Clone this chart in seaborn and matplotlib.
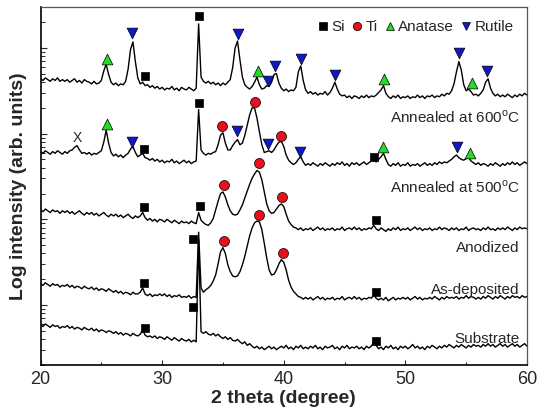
import numpy as np
import pandas as pd
import matplotlib
matplotlib.use('Agg')
import matplotlib.pyplot as plt
from matplotlib.lines import Line2D
from matplotlib.ticker import LogLocator, NullFormatter, MultipleLocator
import seaborn as sns

# 2 theta scan, 0.2 degree step
two_theta = np.linspace(20, 60, 201)

# log10 intensity (arb. units), curves already offset as in the figure
log_600 = [2.64, 2.62, 2.65, 2.63, 2.61, 2.64, 2.62, 2.65, 2.61, 2.63,
           2.61, 2.63, 2.60, 2.62, 2.64, 2.60, 2.62, 2.59, 2.63, 2.61,
           2.60, 2.58, 2.61, 2.58, 2.59, 2.62, 2.73, 2.81, 2.69, 2.60,
           2.57, 2.59, 2.56, 2.58, 2.57, 2.61, 2.75, 2.98, 3.07, 2.84,
           2.65, 2.58, 2.60, 2.56, 2.57, 2.54, 2.56, 2.53, 2.55, 2.52,
           2.54, 2.51, 2.53, 2.52, 2.55, 2.51, 2.53, 2.50, 2.54, 2.52,
           2.51, 2.54, 2.52, 2.50, 2.53, 3.28, 2.66, 2.61, 2.59, 2.61,
           2.58, 2.60, 2.57, 2.59, 2.56, 2.59, 2.57, 2.60, 2.63, 2.77,
           3.00, 3.08, 2.86, 2.66, 2.57, 2.54, 2.52, 2.55, 2.60, 2.66,
           2.57, 2.52, 2.53, 2.56, 2.55, 2.60, 2.69, 2.70, 2.59, 2.53,
           2.50, 2.52, 2.49, 2.51, 2.50, 2.54, 2.72, 2.79, 2.62, 2.51,
           2.47, 2.49, 2.46, 2.48, 2.45, 2.47, 2.46, 2.49, 2.45, 2.48,
           2.53, 2.60, 2.52, 2.46, 2.44, 2.45, 2.42, 2.44, 2.41, 2.44,
           2.43, 2.41, 2.44, 2.42, 2.45, 2.42, 2.44, 2.43, 2.45, 2.48,
           2.51, 2.56, 2.47, 2.43, 2.41, 2.44, 2.42, 2.45, 2.41, 2.43,
           2.42, 2.44, 2.41, 2.43, 2.42, 2.45, 2.42, 2.44, 2.41, 2.44,
           2.43, 2.45, 2.42, 2.44, 2.43, 2.46, 2.44, 2.47, 2.46, 2.50,
           2.58, 2.72, 2.84, 2.74, 2.57, 2.50, 2.52, 2.49, 2.45, 2.46,
           2.44, 2.47, 2.51, 2.60, 2.64, 2.53, 2.47, 2.44, 2.46, 2.43,
           2.45, 2.43, 2.46, 2.44, 2.42, 2.45, 2.43, 2.46, 2.44, 2.47,
           2.45]

log_500 = [1.79, 1.77, 1.80, 1.78, 1.76, 1.79, 1.77, 1.80, 1.78, 1.76,
           1.79, 1.77, 1.80, 1.81, 1.84, 1.86, 1.81, 1.77, 1.78, 1.76,
           1.78, 1.75, 1.77, 1.76, 1.78, 1.80, 1.90, 2.04, 1.89, 1.78,
           1.74, 1.76, 1.73, 1.75, 1.72, 1.75, 1.77, 1.82, 1.85, 1.78,
           1.73, 1.75, 1.77, 1.72, 1.71, 1.69, 1.71, 1.68, 1.70, 1.67,
           1.69, 1.66, 1.68, 1.67, 1.70, 1.66, 1.68, 1.65, 1.67, 1.69,
           1.66, 1.68, 1.65, 1.67, 1.68, 2.28, 1.81, 1.77, 1.75, 1.77,
           1.76, 1.78, 1.79, 1.87, 1.98, 2.01, 1.89, 1.81, 1.81, 1.86,
           1.90, 1.93, 1.87, 1.89, 1.98, 2.10, 2.22, 2.30, 2.30, 2.18,
           2.02, 1.87, 1.78, 1.79, 1.80, 1.78, 1.81, 1.86, 1.90, 1.91,
           1.85, 1.75, 1.69, 1.66, 1.64, 1.66, 1.70, 1.73, 1.67, 1.63,
           1.65, 1.63, 1.66, 1.64, 1.62, 1.65, 1.63, 1.66, 1.64, 1.62,
           1.65, 1.63, 1.66, 1.64, 1.67, 1.63, 1.65, 1.62, 1.66, 1.64,
           1.66, 1.63, 1.65, 1.67, 1.64, 1.66, 1.68, 1.70, 1.67, 1.70,
           1.73, 1.77, 1.70, 1.64, 1.62, 1.65, 1.63, 1.66, 1.62, 1.64,
           1.63, 1.66, 1.62, 1.64, 1.63, 1.65, 1.62, 1.64, 1.66, 1.63,
           1.65, 1.63, 1.66, 1.64, 1.67, 1.65, 1.67, 1.66, 1.68, 1.70,
           1.73, 1.75, 1.72, 1.70, 1.69, 1.71, 1.72, 1.68, 1.66, 1.64,
           1.66, 1.63, 1.65, 1.64, 1.62, 1.65, 1.63, 1.66, 1.64, 1.62,
           1.65, 1.63, 1.66, 1.64, 1.67, 1.64, 1.66, 1.63, 1.65, 1.67,
           1.65]

log_anod = [1.11, 1.09, 1.12, 1.10, 1.08, 1.11, 1.09, 1.10, 1.07, 1.10,
            1.08, 1.10, 1.07, 1.09, 1.06, 1.08, 1.10, 1.07, 1.05, 1.08,
            1.06, 1.08, 1.05, 1.07, 1.04, 1.06, 1.08, 1.05, 1.03, 1.06,
            1.04, 1.06, 1.03, 1.05, 1.02, 1.04, 1.06, 1.03, 1.01, 1.04,
            1.02, 1.04, 1.08, 1.02, 0.99, 1.01, 0.98, 1.00, 0.97, 1.00,
            0.99, 0.97, 1.00, 0.98, 0.96, 0.99, 0.97, 0.95, 0.98, 0.96,
            0.97, 0.95, 0.98, 0.96, 0.95, 1.08, 0.99, 0.96, 0.94, 0.93,
            0.96, 1.01, 1.11, 1.21, 1.30, 1.32, 1.26, 1.17, 1.10, 1.06,
            1.05, 1.06, 1.11, 1.17, 1.25, 1.33, 1.41, 1.48, 1.53, 1.57,
            1.55, 1.46, 1.32, 1.18, 1.10, 1.07, 1.08, 1.12, 1.16, 1.18,
            1.15, 1.06, 0.98, 0.94, 0.91, 0.90, 0.88, 0.90, 0.87, 0.89,
            0.88, 0.90, 0.87, 0.89, 0.91, 0.88, 0.90, 0.87, 0.89, 0.88,
            0.90, 0.87, 0.89, 0.88, 0.91, 0.87, 0.89, 0.90, 0.88, 0.91,
            0.88, 0.90, 0.87, 0.89, 0.88, 0.90, 0.89, 0.93, 0.89, 0.87,
            0.90, 0.88, 0.86, 0.89, 0.87, 0.90, 0.88, 0.91, 0.87, 0.89,
            0.88, 0.90, 0.87, 0.89, 0.91, 0.88, 0.90, 0.87, 0.89, 0.88,
            0.90, 0.87, 0.89, 0.88, 0.91, 0.88, 0.90, 0.89, 0.87, 0.90,
            0.88, 0.90, 0.87, 0.89, 0.88, 0.91, 0.87, 0.89, 0.90, 0.88,
            0.89, 0.87, 0.90, 0.88, 0.91, 0.88, 0.89, 0.87, 0.90, 0.88,
            0.90, 0.88, 0.91, 0.89, 0.87, 0.90, 0.88, 0.91, 0.89, 0.90,
            0.89]

log_asdep = [0.25, 0.23, 0.26, 0.24, 0.22, 0.25, 0.23, 0.24, 0.21, 0.23,
             0.22, 0.24, 0.21, 0.23, 0.20, 0.22, 0.21, 0.19, 0.22, 0.20,
             0.19, 0.21, 0.18, 0.20, 0.17, 0.19, 0.18, 0.16, 0.19, 0.17,
             0.15, 0.17, 0.14, 0.16, 0.13, 0.15, 0.14, 0.12, 0.15, 0.13,
             0.13, 0.15, 0.20, 0.13, 0.11, 0.13, 0.10, 0.12, 0.11, 0.13,
             0.11, 0.13, 0.10, 0.12, 0.09, 0.11, 0.10, 0.12, 0.09, 0.10,
             0.09, 0.11, 0.08, 0.10, 0.09, 0.85, 0.20, 0.15, 0.18, 0.20,
             0.23, 0.28, 0.35, 0.48, 0.62, 0.67, 0.60, 0.47, 0.39, 0.34,
             0.33, 0.34, 0.39, 0.47, 0.57, 0.69, 0.81, 0.90, 0.96, 0.98,
             0.97, 0.88, 0.72, 0.55, 0.41, 0.35, 0.36, 0.41, 0.48, 0.53,
             0.50, 0.41, 0.29, 0.21, 0.16, 0.13, 0.10, 0.09, 0.07, 0.09,
             0.07, 0.09, 0.06, 0.08, 0.10, 0.07, 0.09, 0.06, 0.08, 0.07,
             0.09, 0.06, 0.08, 0.07, 0.10, 0.06, 0.08, 0.09, 0.07, 0.10,
             0.07, 0.09, 0.06, 0.08, 0.07, 0.09, 0.08, 0.12, 0.08, 0.06,
             0.08, 0.06, 0.09, 0.05, 0.07, 0.09, 0.06, 0.08, 0.07, 0.09,
             0.07, 0.09, 0.06, 0.08, 0.10, 0.07, 0.09, 0.06, 0.08, 0.07,
             0.09, 0.07, 0.10, 0.08, 0.06, 0.09, 0.07, 0.10, 0.08, 0.09,
             0.08, 0.10, 0.07, 0.09, 0.08, 0.11, 0.08, 0.10, 0.09, 0.07,
             0.09, 0.07, 0.10, 0.08, 0.11, 0.09, 0.07, 0.10, 0.08, 0.11,
             0.09, 0.07, 0.10, 0.08, 0.11, 0.09, 0.10, 0.08, 0.11, 0.09,
             0.10]

log_sub = [-0.23, -0.25, -0.22, -0.24, -0.26, -0.23, -0.25, -0.24, -0.27, -0.25,
           -0.26, -0.24, -0.27, -0.25, -0.28, -0.26, -0.27, -0.29, -0.26, -0.28,
           -0.29, -0.27, -0.30, -0.28, -0.31, -0.29, -0.30, -0.32, -0.30, -0.31,
           -0.33, -0.31, -0.34, -0.32, -0.35, -0.33, -0.34, -0.36, -0.33, -0.35,
           -0.36, -0.34, -0.29, -0.35, -0.37, -0.36, -0.38, -0.36, -0.39, -0.37,
           -0.38, -0.40, -0.37, -0.39, -0.41, -0.38, -0.40, -0.42, -0.39, -0.41,
           -0.42, -0.40, -0.43, -0.41, -0.43, 0.76, -0.31, -0.33, -0.31, -0.34,
           -0.35, -0.33, -0.36, -0.34, -0.37, -0.39, -0.37, -0.40, -0.38, -0.41,
           -0.42, -0.40, -0.43, -0.45, -0.43, -0.47, -0.45, -0.48, -0.50, -0.48,
           -0.51, -0.49, -0.52, -0.50, -0.48, -0.51, -0.49, -0.52, -0.50, -0.48,
           -0.50, -0.47, -0.51, -0.49, -0.52, -0.48, -0.50, -0.47, -0.51, -0.49,
           -0.51, -0.48, -0.50, -0.47, -0.51, -0.49, -0.52, -0.48, -0.50, -0.49,
           -0.47, -0.51, -0.49, -0.52, -0.48, -0.50, -0.47, -0.51, -0.49, -0.50,
           -0.48, -0.51, -0.49, -0.52, -0.48, -0.50, -0.48, -0.43, -0.47, -0.51,
           -0.49, -0.52, -0.48, -0.50, -0.47, -0.51, -0.49, -0.52, -0.48, -0.50,
           -0.48, -0.51, -0.49, -0.46, -0.50, -0.48, -0.51, -0.49, -0.52, -0.48,
           -0.50, -0.47, -0.49, -0.51, -0.48, -0.50, -0.47, -0.49, -0.46, -0.48,
           -0.50, -0.47, -0.49, -0.46, -0.48, -0.50, -0.47, -0.49, -0.46, -0.48,
           -0.47, -0.49, -0.46, -0.48, -0.45, -0.48, -0.46, -0.49, -0.47, -0.45,
           -0.48, -0.46, -0.49, -0.47, -0.45, -0.48, -0.46, -0.49, -0.47, -0.45,
           -0.48]

curves = [log_600, log_500, log_anod, log_asdep, log_sub]
sample_names = ['Annealed at 600$^{\\rm o}$C', 'Annealed at 500$^{\\rm o}$C',
                'Anodized', 'As-deposited', 'Substrate']
name_logy = [2.19, 1.38, 0.66, 0.175, -0.39]

# peak markers (2 theta, log10 intensity)
si_x = [28.59, 33.06, 28.54, 33.06, 47.45, 28.51, 33.12, 47.56,
        28.51, 32.52, 47.62, 28.62, 32.52, 47.62]
si_y = [2.672, 3.372, 1.820, 2.361, 1.730, 1.140, 1.159, 0.992,
        0.260, 0.767, 0.155, -0.265, -0.027, -0.420]
ti_x = [34.90, 37.67, 39.75, 35.09, 37.97, 39.84, 35.09, 37.97, 39.97]
ti_y = [2.089, 2.372, 1.976, 1.400, 1.660, 1.257, 0.747, 1.047, 0.603]
anatase_x = [25.44, 37.86, 48.25, 55.46, 25.44, 48.19, 55.32]
anatase_y = [2.870, 2.734, 2.633, 2.587, 2.112, 1.840, 1.770]
rutile_x = [27.55, 36.20, 38.68, 39.28, 41.40, 44.22, 54.44, 56.74,
            27.55, 36.16, 38.74, 41.37, 54.28]
rutile_y = [3.170, 3.162, 2.617, 2.789, 2.867, 2.684, 2.944, 2.730,
            1.898, 2.034, 1.879, 1.789, 1.847]

sns.set_style('ticks')
plt.rcParams['font.family'] = ['Liberation Sans', 'DejaVu Sans']
plt.rcParams['mathtext.fontset'] = 'custom'
plt.rcParams['mathtext.rm'] = 'Liberation Sans'

fig = plt.figure(figsize=(5.43, 4.09), dpi=100)
ax = fig.add_axes([0.0746, 0.1076, 0.8959, 0.8753])

for vals in curves:
    sns.lineplot(x=two_theta, y=10 ** np.array(vals), ax=ax, color='black',
                 lw=1.0, estimator=None)

phases = [('Si', si_x, si_y, 's', 'black', 38),
          ('Ti', ti_x, ti_y, 'o', '#e8101a', 52),
          ('Anatase', anatase_x, anatase_y, '^', '#22dd22', 60),
          ('Rutile', rutile_x, rutile_y, 'v', '#1018c8', 60)]
handles = []
for name, px, py, mk, col, s in phases:
    sns.scatterplot(x=px, y=10 ** np.array(py), ax=ax, marker=mk, color=col,
                    s=s, edgecolor='black', linewidth=0.5, zorder=3)
    handles.append(Line2D([], [], ls='', marker=mk, color=col,
                          markeredgecolor='black', markeredgewidth=0.5,
                          markersize=6, label=name))

for name, ly in zip(sample_names, name_logy):
    ax.text(59.4, 10 ** ly, name, ha='right', va='center', fontsize=11)
ax.text(23.06, 10 ** 1.945, 'X', ha='center', va='center', fontsize=10)

ax.legend(handles=handles, loc='upper right', ncol=4, frameon=False,
          fontsize=11, handlelength=0.8, handletextpad=0.15,
          columnspacing=0.4, borderaxespad=0.45)

ax.set_yscale('log')
ax.set_xlim(20, 60)
ax.set_ylim(0.2, 3000)
ax.xaxis.set_major_locator(MultipleLocator(10))
ax.xaxis.set_minor_locator(MultipleLocator(5))
ax.yaxis.set_major_locator(LogLocator(base=10, numticks=10))
ax.yaxis.set_minor_locator(LogLocator(base=10, subs=np.arange(2, 10), numticks=20))
ax.yaxis.set_major_formatter(NullFormatter())
ax.yaxis.set_minor_formatter(NullFormatter())
ax.tick_params(axis='x', which='major', direction='in', length=3.5, width=0.8,
               labelsize=13, pad=4)
ax.tick_params(axis='x', which='minor', direction='in', length=2.5, width=0.8)
ax.tick_params(axis='y', which='major', direction='in', length=4.5, width=0.8)
ax.tick_params(axis='y', which='minor', direction='in', length=2.8, width=0.7)

for side in ['left', 'bottom']:
    ax.spines[side].set_color('black')
    ax.spines[side].set_linewidth(1.2)
for side in ['top', 'right']:
    ax.spines[side].set_color('#555555')
    ax.spines[side].set_linewidth(0.9)

ax.set_xlabel('2 theta (degree)', fontsize=14, fontweight='bold', labelpad=2)
ax.set_ylabel('Log intensity (arb. units)', fontsize=14, fontweight='bold',
              labelpad=6)

fig.savefig('out.png', dpi=100)
